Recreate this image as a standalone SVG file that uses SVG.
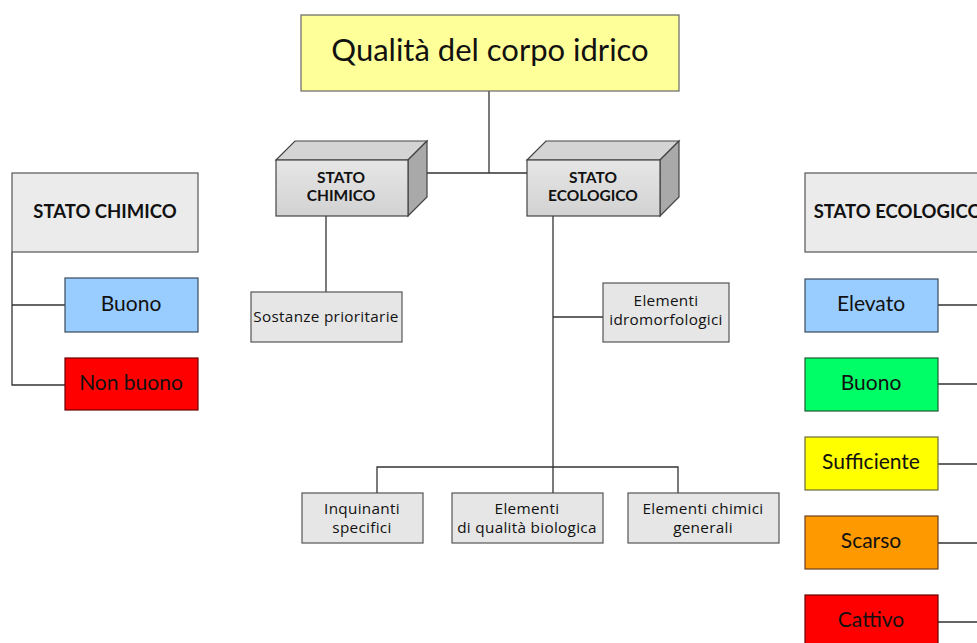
<svg xmlns="http://www.w3.org/2000/svg" width="977" height="643" viewBox="0 0 977 643">
<defs>
<linearGradient id="front" x1="0" y1="0" x2="0" y2="1"><stop offset="0" stop-color="#e6e6e6"/><stop offset="1" stop-color="#d2d2d2"/></linearGradient>
</defs>
<style>
text{font-family:Lato,"Open Sans","Noto Sans",sans-serif;fill:#111;text-anchor:middle}
.box{fill:#e6e6e6;stroke:#555;stroke-width:1.2}
.hdr{fill:#ebebeb;stroke:#555;stroke-width:1.2}
.ln{fill:none;stroke:#333;stroke-width:1.3}
.s14{font-size:15.3px;letter-spacing:0.3px;font-family:"Open Sans","Noto Sans",sans-serif}
.b3{font-size:15.5px;font-weight:bold}
.hb{font-size:18.5px;font-weight:bold}
.lvl{font-size:21px}
</style>
<rect width="977" height="643" fill="#fff"/>
<g id="connectors">
<path class="ln" d="M489 91V173M426 173H530"/>
<path class="ln" d="M326 216V292"/>
<path class="ln" d="M553 216V467M553 317H603M377 493V467H678V493M553 467V493"/>
<path class="ln" d="M12 252V385H65M12 305H65"/>
<path class="ln" d="M938 305H977M938 384H977M938 464H977M938 543H977M938 622H977"/>
</g>
<g id="root">
<rect x="301" y="15" width="378" height="76" fill="#ffff99" stroke="#666" stroke-width="1.2"/>
<text x="490" y="61" style="font-size:31px">Qualità del corpo idrico</text>
</g>
<g id="stato-chimico-3d">
<polygon points="276,160 295,141 427,141 408,160" fill="#d4d4d4" stroke="#444" stroke-width="1.2"/>
<polygon points="408,160 427,141 427,197 408,216" fill="#a9a9a9" stroke="#444" stroke-width="1.2"/>
<rect x="276" y="160" width="132" height="56" fill="url(#front)" stroke="#444" stroke-width="1.2"/>
<text class="b3" x="341" y="183">STATO</text>
<text class="b3" x="341" y="201">CHIMICO</text>
</g>
<g id="stato-ecologico-3d">
<polygon points="527,160 546,141 679,141 660,160" fill="#d4d4d4" stroke="#444" stroke-width="1.2"/>
<polygon points="660,160 679,141 679,197 660,216" fill="#a9a9a9" stroke="#444" stroke-width="1.2"/>
<rect x="527" y="160" width="133" height="56" fill="url(#front)" stroke="#444" stroke-width="1.2"/>
<text class="b3" x="593" y="183">STATO</text>
<text class="b3" x="593" y="201">ECOLOGICO</text>
</g>
<g id="sostanze">
<rect class="box" x="251" y="292" width="151" height="50"/>
<text class="s14" x="326" y="322">Sostanze prioritarie</text>
</g>
<g id="idromorfologici">
<rect class="box" x="603" y="283" width="126" height="59"/>
<text class="s14" x="666" y="306">Elementi</text>
<text class="s14" x="666" y="325">idromorfologici</text>
</g>
<g id="inquinanti">
<rect class="box" x="302" y="493" width="121" height="50"/>
<text class="s14" x="362" y="514">Inquinanti</text>
<text class="s14" x="362" y="533">specifici</text>
</g>
<g id="biologica">
<rect class="box" x="452" y="493" width="151" height="50"/>
<text class="s14" x="527" y="514">Elementi</text>
<text class="s14" x="527" y="533">di qualità biologica</text>
</g>
<g id="chimici-generali">
<rect class="box" x="628" y="493" width="151" height="50"/>
<text class="s14" x="703" y="514">Elementi chimici</text>
<text class="s14" x="703" y="533">generali</text>
</g>
<g id="legend-chimico">
<rect class="hdr" x="12" y="173" width="186" height="79"/>
<text class="hb" x="105" y="218">STATO CHIMICO</text>
</g>
<g id="chimico-buono">
<rect x="65" y="278" width="133" height="54" fill="#99ccff" stroke="#3a4a5a" stroke-width="1.2"/>
<text class="lvl" x="131" y="311">Buono</text>
</g>
<g id="chimico-nonbuono">
<rect x="65" y="358" width="133" height="52" fill="#ff0000" stroke="#6a0000" stroke-width="1.2"/>
<text class="lvl" x="131" y="390">Non buono</text>
</g>
<g id="legend-ecologico">
<rect class="hdr" x="805" y="173" width="186" height="79"/>
<text class="hb" x="898" y="218">STATO ECOLOGICO</text>
</g>
<g id="eco-elevato">
<rect x="805" y="279" width="133" height="53" fill="#99ccff" stroke="#3a4a5a" stroke-width="1.2"/>
<text class="lvl" x="871" y="311">Elevato</text>
</g>
<g id="eco-buono">
<rect x="805" y="358" width="133" height="53" fill="#00ff66" stroke="#1e5a32" stroke-width="1.2"/>
<text class="lvl" x="871" y="390">Buono</text>
</g>
<g id="eco-sufficiente">
<rect x="805" y="437" width="133" height="53" fill="#ffff00" stroke="#6a6a3a" stroke-width="1.2"/>
<text class="lvl" x="871" y="469">Sufficiente</text>
</g>
<g id="eco-scarso">
<rect x="805" y="516" width="133" height="53" fill="#ff9900" stroke="#6a4020" stroke-width="1.2"/>
<text class="lvl" x="871" y="548">Scarso</text>
</g>
<g id="eco-cattivo">
<rect x="805" y="595" width="133" height="53" fill="#ff0000" stroke="#6a0000" stroke-width="1.2"/>
<text class="lvl" x="871" y="627">Cattivo</text>
</g>
</svg>
